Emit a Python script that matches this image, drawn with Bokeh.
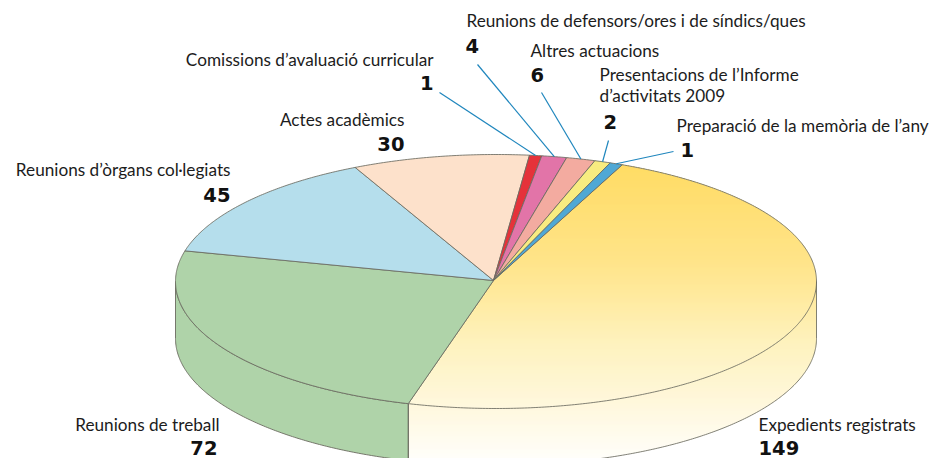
import math
from bokeh.plotting import figure
from bokeh.models import Range1d
from bokeh.core.properties import value
from bokeh.embed import file_html
from bokeh.resources import INLINE

# ---- data
categories = ["Expedients registrats", "Reunions de treball", "Reunions d’òrgans col·legiats",
              "Actes acadèmics", "Comissions d’avaluació curricular",
              "Reunions de defensors/ores i de síndics/ques", "Altres actuacions",
              "Presentacions de l’Informe d’activitats 2009", "Preparació de la memòria de l’any"]
values = [149, 72, 45, 30, 1, 4, 6, 2, 1]
# the slices as the picture draws them (it widens the smallest ones), same unit as values
drawn = [148.6, 75.8, 43.0, 27.6, 1.9, 3.9, 4.5, 2.5, 2.0]
top_colors = [None, "#afd3a9", "#b5deec", "#fde1cb", "#e5323a", "#e274a8", "#f3aba0", "#f8ec80", "#4fa8d5"]

# ---- pie geometry (picture pixels)
CX, CY, RX, RY, DEPTH = 495.5, 281.0, 320.5, 127.0, 57.0
APEX = (493.0, 280.0)
START = 66.8
EDGE = "#6b6b60"
LEADER = "#1f86bd"
TEXT = "#1c1c1c"
TEXT_SHIFT = -7
NUM_SHIFT = -8
GRAD_Y = [165, 260, 300, 345, 402, 458]
GRAD_C = [(255, 208, 50), (255, 219, 98), (255, 228, 130), (253, 238, 170), (255, 245, 208), (255, 254, 248)]


def rim(t, dy=0.0):
    a = math.radians(t)
    return CX + RX * math.cos(a), CY - RY * math.sin(a) + dy


def arc(t0, t1, dy=0.0, n=None):
    n = n or max(2, int(abs(t1 - t0) * 2))
    return [rim(t0 + (t1 - t0) * i / n, dy) for i in range(n + 1)]


total = sum(drawn)
bounds = [START]
for v in drawn:
    bounds.append(bounds[-1] - v / total * 360)

W, H = 933, 458
p = figure(width=W, height=H, toolbar_location=None, output_backend="svg",
           x_range=Range1d(0, W), y_range=Range1d(H, 0),
           min_border=0, outline_line_color=None)
p.axis.visible = False
p.grid.visible = False
p.background_fill_color = "white"
p.border_fill_color = "white"

# ---- gold slice + its wall, drawn as one-pixel rows of a vertical gradient
t_end = bounds[1]
gold = [APEX] + arc(bounds[0], 0) + arc(0, t_end, DEPTH) + arc(t_end, t_end - 0.001, 0, 1)


def grad(y):
    if y <= GRAD_Y[0]:
        return GRAD_C[0]
    for k in range(len(GRAD_Y) - 1):
        if y <= GRAD_Y[k + 1]:
            f = (y - GRAD_Y[k]) / (GRAD_Y[k + 1] - GRAD_Y[k])
            return tuple(round(a + (b - a) * f) for a, b in zip(GRAD_C[k], GRAD_C[k + 1]))
    return GRAD_C[-1]


left, right, ytop, ybot, fill = [], [], [], [], []
ymin = int(min(q[1] for q in gold))
for y in range(ymin, 460):
    yc = y + 0.5
    xs = []
    for (x0, y0), (x1, y1) in zip(gold, gold[1:] + gold[:1]):
        if (y0 <= yc) != (y1 <= yc):
            xs.append(x0 + (yc - y0) / (y1 - y0) * (x1 - x0))
    if len(xs) >= 2:
        left.append(min(xs)); right.append(max(xs))
        ytop.append(y); ybot.append(y + 1.1)
        fill.append("#%02x%02x%02x" % grad(yc))
p.quad(left=left, right=right, top=ytop, bottom=ybot, fill_color=fill, fill_alpha=1.0, line_color=None)

# ---- green wall
g_wall = arc(180, t_end + 360, 0) + arc(t_end + 360, 180, DEPTH)
p.patch([q[0] for q in g_wall], [q[1] for q in g_wall], fill_color=top_colors[1], fill_alpha=1.0, line_color=EDGE, line_width=1, line_alpha=0.9)

# ---- outer contour of gold wall
c1 = arc(0, t_end, DEPTH)
xw, yw = rim(0)
p.line([xw] + [q[0] for q in c1], [yw] + [q[1] for q in c1], line_color=EDGE, line_width=1, line_alpha=0.85)
xe, ye = rim(t_end)
p.line([xe, xe], [ye, ye + DEPTH], line_color=EDGE, line_width=1, line_alpha=0.9)

# ---- top face
for i, c in enumerate(top_colors):
    pts = [APEX] + arc(bounds[i], bounds[i + 1])
    if c is None:
        xs_, ys_ = [q[0] for q in pts], [q[1] for q in pts]
        p.line(xs_ + [xs_[0]], ys_ + [ys_[0]], line_color=EDGE, line_width=1, line_alpha=0.85)
    else:
        p.patch([q[0] for q in pts], [q[1] for q in pts], fill_color=c, fill_alpha=1.0, line_color=EDGE, line_width=1, line_alpha=0.85)

# ---- leader lines, from each small slice's rim to its label
leader_ends = {4: (439, 92), 5: (477, 64), 6: (541, 92), 7: (608, 140), 8: (673, 151)}
for i, (ex, ey) in leader_ends.items():
    mx, my = rim((bounds[i] + bounds[i + 1]) / 2)
    p.line([ex, mx], [ey, my], line_color=LEADER, line_width=1.2)

# ---- texts
FONT = "Lato"
NUMF = "DejaVu Sans"
labels = [
    ("Reunions de defensors/ores i de síndics/ques", 466, 27, "left"),
    ("Altres actuacions", 530, 57, "left"),
    ("Presentacions de l’Informe", 599, 81, "left"),
    ("d’activitats 2009", 599, 102, "left"),
    ("Preparació de la memòria de l’any", 676, 132, "left"),
    ("Comissions d’avaluació curricular", 433, 66, "right"),
    ("Actes acadèmics", 404, 126, "right"),
    ("Reunions d’òrgans col·legiats", 230, 176, "right"),
    ("Reunions de treball", 219, 431, "right"),
    ("Expedients registrats", 758, 431, "left"),
]
numbers = [
    (values[5], 465, 53, "left"), (values[6], 530, 82, "left"), (values[7], 603, 129, "left"),
    (values[8], 680, 157, "left"), (values[4], 433, 90, "right"), (values[3], 404, 151, "right"),
    (values[2], 230, 202, "right"), (values[1], 217, 455, "right"), (values[0], 758, 455, "left"),
]
for t, x, y, al in labels:
    p.text([x], [y + TEXT_SHIFT], text=[t], text_font=value(FONT), text_font_size="17.2px", text_color=TEXT,
           text_align=al, text_baseline="alphabetic")
for n, x, y, al in numbers:
    p.text([x], [y + NUM_SHIFT], text=[str(n)], text_font=value(NUMF), text_font_size="19.5px", text_font_style="bold",
           text_color="#111111", text_align=al, text_baseline="alphabetic")

open("out.html", "w").write(file_html(p, INLINE))
